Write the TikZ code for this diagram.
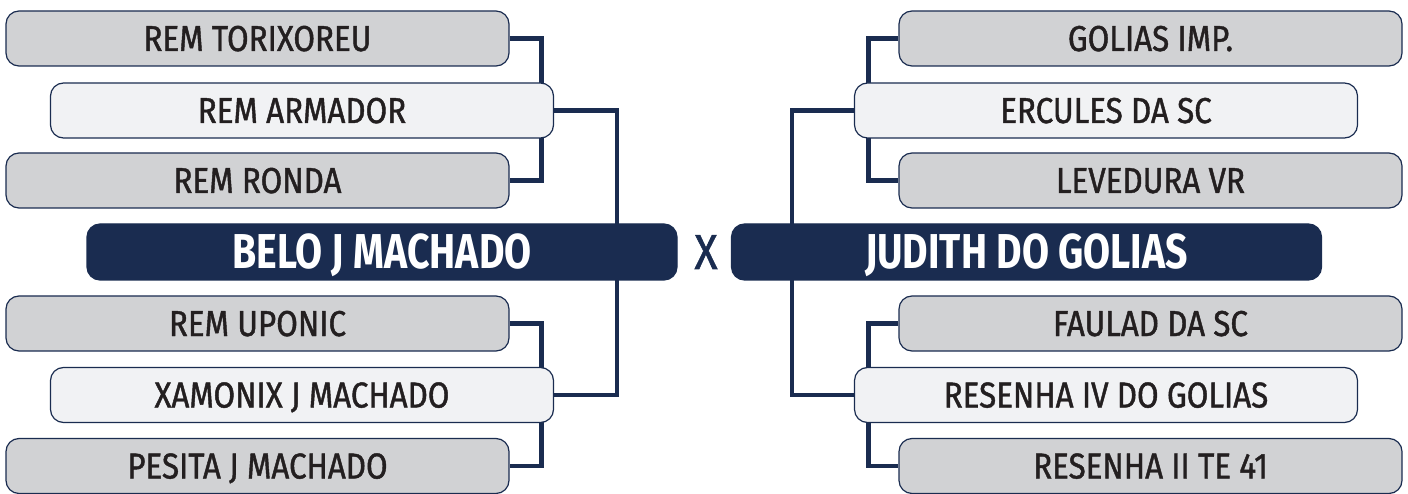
\documentclass[tikz,border=0pt]{standalone}
\usepackage{fontspec}
\setmainfont[FakeStretch=0.8]{Fira Sans}
\newfontfamily\teamfont[FakeStretch=0.87,FakeBold=1.2]{Fira Sans}
\usepackage{tikz}
\usetikzlibrary{backgrounds}
\usepackage{xcolor}
\definecolor{bracket-navy}{RGB}{26,44,80}
\definecolor{team-grey}{RGB}{209,210,212}
\definecolor{team-light}{RGB}{241,242,244}
\definecolor{team-ink}{RGB}{35,31,32}
\tikzstyle{team}=[draw=bracket-navy, line width=1.2pt, fill=team-grey, rounded corners=13pt, minimum width=503pt, minimum height=55pt, inner sep=0pt, text=team-ink, text height=25pt, text depth=0pt, font=\teamfont\fontsize{36}{36}\selectfont]
\tikzstyle{seed}=[team, fill=team-light]
\tikzstyle{finalist}=[team, fill=bracket-navy, minimum width=590pt, minimum height=56pt, text=white, text height=34pt, font=\rmfamily\fontsize{49}{49}\selectfont\bfseries]
\tikzstyle{link}=[draw=bracket-navy, line width=4.5pt]

\begin{document}
\begin{tikzpicture}[x=1pt, y=-1pt]
	\useasboundingbox (0,0) rectangle (1408,494);
	% left bracket
	\node[team] (torixoreu) at (257.5,38.5) {REM TORIXOREU};
	\node[seed] (armador) at (302,110.5) {REM ARMADOR};
	\node[team] (ronda) at (257.5,180.5) {REM RONDA};
	\node[finalist] (belo) at (382,252) {BELO J MACHADO};
	\node[team] (uponic) at (257.5,323.5) {REM UPONIC};
	\node[seed] (xamonix) at (302,395) {XAMONIX J MACHADO};
	\node[team] (pesita) at (257.5,466) {PESITA J MACHADO};
	% right bracket
	\node[team] (golias) at (1150.5,38.5) {GOLIAS IMP.};
	\node[seed] (ercules) at (1106,110.5) {ERCULES DA SC};
	\node[team] (levedura) at (1150.5,180.5) {LEVEDURA VR};
	\node[finalist] (judith) at (1026.5,252) {JUDITH DO GOLIAS};
	\node[team] (faulad) at (1150.5,323.5) {FAULAD DA SC};
	\node[seed] (resenhaiv) at (1106,395) {RESENHA IV DO GOLIAS};
	\node[team] (resenhaii) at (1150.5,466) {RESENHA II TE 41};
	\node[text=bracket-navy, text height=34pt, text depth=0pt, inner sep=0pt, font=\teamfont\fontsize{49}{49}\selectfont] (versus) at (706,252) {X};
	\begin{scope}[on background layer]
		\draw[link] (torixoreu.east) -- ++(32,0) |- (ronda.east);
		\draw[link] (uponic.east) -- ++(32,0) |- (pesita.east);
		\draw[link] (armador.east) -- ++(63,0) |- (xamonix.east);
		\draw[link] (golias.west) -- ++(-30,0) |- (levedura.west);
		\draw[link] (faulad.west) -- ++(-30,0) |- (resenhaii.west);
		\draw[link] (ercules.west) -- ++(-62,0) |- (resenhaiv.west);
	\end{scope}
\end{tikzpicture}
\end{document}
